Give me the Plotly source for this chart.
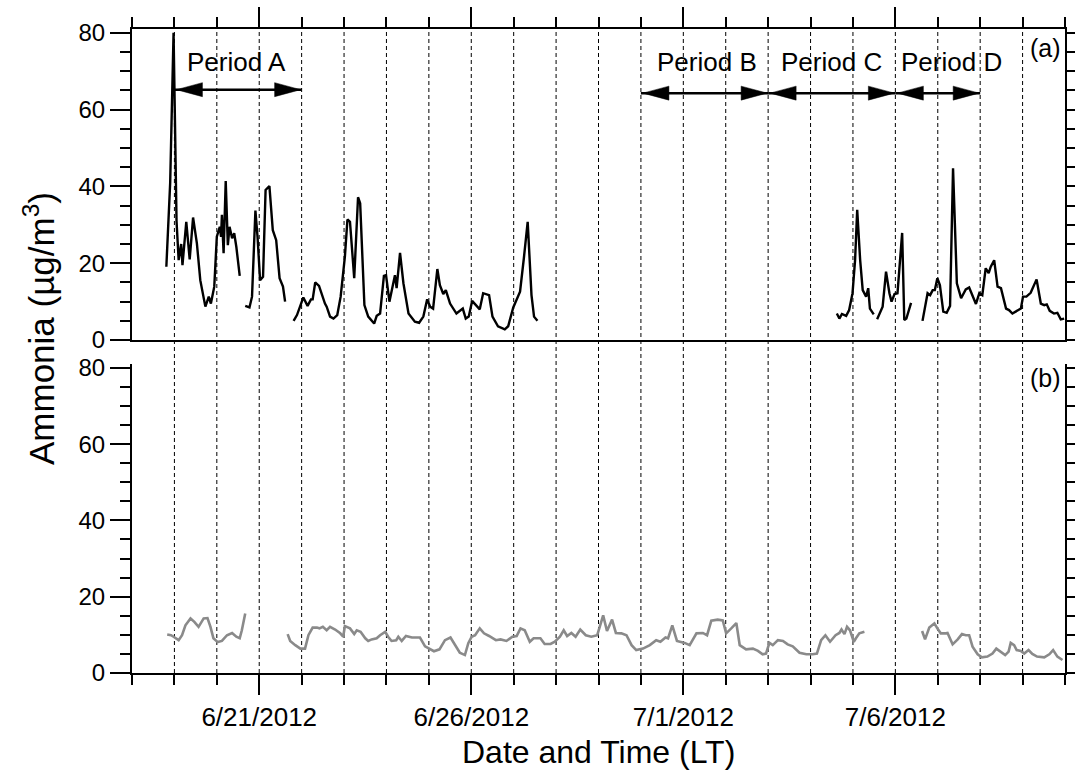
import pandas as pd
import plotly.graph_objects as go

BASE = pd.Timestamp("2012-06-18")

# ---- panel (a): ammonia (black), day offsets from 6/18/2012 00:00 ----
days_a = [0.81, 0.90, 0.98, 1.05, 1.10, 1.16, 1.19, 1.28, 1.36, 1.44, 1.53, 1.61, 1.73, 1.81, 1.86, 1.94,
          2.00, 2.07, 2.10, 2.12, 2.16, 2.21, 2.26, 2.30, 2.36, 2.41, 2.46, 2.54,
          2.60,
          2.67, 2.77, 2.83, 2.91, 2.96, 3.02, 3.09, 3.15, 3.24, 3.32, 3.40, 3.48, 3.56, 3.61,
          3.70,
          3.81, 3.89, 4.04, 4.14, 4.22, 4.26, 4.32, 4.41, 4.55, 4.59, 4.67, 4.75, 4.84, 4.92, 5.02, 5.08,
          5.14, 5.24, 5.33, 5.38, 5.48, 5.57, 5.71, 5.77, 5.85, 5.94, 5.99, 6.07, 6.20, 6.24, 6.32, 6.40,
          6.52, 6.67, 6.77, 6.87, 6.96, 7.03, 7.10, 7.20, 7.26, 7.34, 7.40, 7.50, 7.65, 7.80, 7.87, 7.94,
          8.02, 8.13, 8.20, 8.28, 8.42, 8.50, 8.63, 8.79, 8.87, 8.99, 9.15, 9.24, 9.33, 9.42, 9.48, 9.56,
          13.0,
          16.62, 16.68, 16.74, 16.84, 16.91, 16.99, 17.05, 17.10, 17.17, 17.23, 17.31, 17.36, 17.40, 17.49,
          17.53,
          17.57, 17.70, 17.78, 17.86, 17.91, 17.98, 18.05, 18.16, 18.21, 18.26, 18.37,
          18.50,
          18.64, 18.76, 18.82, 18.88, 18.93, 18.99, 19.05, 19.13, 19.21, 19.29, 19.36, 19.45, 19.55, 19.66,
          19.74, 19.90, 19.98, 20.05, 20.13, 20.20, 20.25, 20.33, 20.41, 20.49, 20.61, 20.68, 20.76, 20.84,
          20.96, 21.01, 21.09, 21.19, 21.33, 21.43, 21.51, 21.57, 21.64, 21.74, 21.82, 21.90, 21.98]
nh3_a = [19.1, 40.9, 80.0, 31.0, 20.8, 25.0, 19.5, 30.8, 21.0, 31.9, 25.2, 15.6, 8.7, 11.3, 9.5, 13.9,
         26.9, 29.5, 26.9, 32.6, 22.6, 41.4, 24.7, 29.5, 26.5, 27.8, 24.3, 16.7,
         None,
         8.9, 8.5, 11.3, 33.7, 26.9, 15.6, 16.5, 39.1, 40.1, 28.6, 26.0, 16.1, 13.9, 10.0,
         None,
         5.0, 6.5, 11.1, 8.9, 10.6, 10.6, 15.0, 14.1, 9.5, 8.7, 6.1, 5.6, 6.5, 11.3, 21.7, 31.4,
         30.8, 16.1, 37.2, 35.6, 9.1, 6.1, 4.3, 6.3, 6.9, 16.7, 16.9, 10.0, 16.9, 13.5, 22.7, 14.8,
         6.9, 4.8, 4.5, 6.1, 10.6, 8.7, 8.2, 18.5, 14.3, 12.0, 13.0, 9.5, 6.9, 8.2, 5.6, 6.1,
         10.2, 8.7, 8.0, 12.2, 11.7, 6.1, 3.6, 2.8, 3.6, 8.5, 12.6, 21.3, 30.8, 11.7, 6.1, 5.0,
         None,
         6.9, 5.6, 6.8, 6.3, 7.8, 12.2, 20.8, 33.9, 20.8, 13.0, 11.3, 13.5, 8.2, 6.7,
         None,
         5.4, 8.7, 17.8, 12.2, 10.0, 12.0, 12.2, 27.9, 5.2, 5.6, 9.7,
         None,
         5.0, 12.2, 11.7, 13.0, 13.0, 16.1, 14.3, 7.4, 7.1, 8.9, 44.7, 14.8, 10.9, 13.2,
         13.7, 9.4, 12.2, 11.7, 18.7, 17.4, 19.1, 20.8, 13.9, 13.5, 8.2, 7.8, 6.9, 7.4,
         8.2, 11.3, 11.3, 12.3, 15.8, 9.5, 9.1, 9.3, 7.6, 6.9, 7.1, 5.4, 5.6]

# ---- panel (b): ammonia (gray) ----
days_b = [0.83, 0.92, 0.98, 1.10, 1.18, 1.26, 1.38, 1.47, 1.57, 1.69, 1.78, 1.85, 1.92, 2.02, 2.12, 2.24,
          2.36, 2.46, 2.54, 2.59, 2.67,
          3.20,
          3.67, 3.73, 3.85, 3.97, 4.08, 4.16, 4.26, 4.36, 4.42, 4.50, 4.59, 4.67, 4.79, 4.91, 4.98, 5.02,
          5.14, 5.24, 5.30, 5.39, 5.50, 5.57, 5.65, 5.77, 5.85, 5.97, 6.04, 6.12, 6.23, 6.28, 6.36, 6.46,
          6.60, 6.79, 6.91, 7.01, 7.12, 7.25, 7.38, 7.51, 7.61, 7.73, 7.85, 7.93, 8.01, 8.09, 8.20, 8.30,
          8.42, 8.58, 8.69, 8.83, 8.97, 9.07, 9.16, 9.26, 9.38, 9.47, 9.63, 9.73, 9.87, 9.97, 10.09, 10.18,
          10.26, 10.36, 10.46, 10.57, 10.70, 10.83, 10.97, 11.11, 11.20, 11.32, 11.41, 11.54, 11.66, 11.78,
          11.89, 12.05, 12.21, 12.36, 12.46, 12.58, 12.64, 12.74, 12.85, 13.03, 13.15, 13.31, 13.46, 13.56,
          13.66, 13.81, 13.93, 14.01, 14.13, 14.25, 14.33, 14.48, 14.64, 14.76, 14.87, 14.95, 15.03, 15.11,
          15.23, 15.35, 15.46, 15.58, 15.74, 15.90, 16.05, 16.15, 16.25, 16.35, 16.46, 16.59, 16.68, 16.73,
          16.80, 16.86, 16.93, 17.02, 17.07, 17.15, 17.27,
          18.00,
          18.63, 18.70, 18.80, 18.92, 18.99, 19.07, 19.19, 19.23, 19.35, 19.47, 19.57, 19.66, 19.74, 19.82,
          19.94, 20.04, 20.17, 20.29, 20.38, 20.49, 20.59, 20.67, 20.72, 20.80, 20.86, 20.96, 21.04, 21.14,
          21.23, 21.34, 21.51, 21.63, 21.72, 21.82, 21.94]
nh3_b = [10.1, 9.9, 9.5, 8.6, 9.9, 12.5, 14.3, 13.4, 12.1, 14.3, 14.4, 12.1, 9.1, 8.1, 8.4, 9.9,
         10.5, 9.5, 9.1, 11.2, 15.6,
         None,
         10.2, 8.4, 7.3, 6.4, 6.4, 9.9, 11.9, 11.9, 11.7, 12.1, 11.2, 12.1, 11.4, 10.4, 9.5, 12.3,
         11.7, 10.2, 11.2, 10.8, 9.1, 8.4, 8.8, 9.1, 9.9, 10.8, 9.5, 8.4, 8.6, 9.5, 8.4, 9.7,
         9.3, 9.3, 7.0, 6.4, 5.7, 6.2, 8.6, 9.3, 7.3, 5.3, 4.7, 7.8, 9.5, 9.9, 11.7, 10.4,
         9.7, 8.6, 8.8, 8.4, 9.5, 9.7, 11.7, 11.2, 8.2, 9.1, 9.1, 7.6, 7.6, 8.2, 9.5, 11.2,
         9.7, 10.5, 9.5, 11.4, 9.9, 9.5, 9.9, 15.1, 11.0, 14.0, 10.5, 10.4, 9.9, 7.3,
         6.0, 6.4, 7.3, 8.6, 8.2, 9.3, 9.1, 12.5, 8.4, 7.9, 7.3, 10.4, 10.5, 9.9,
         13.7, 14.0, 13.8, 10.4, 11.7, 13.1, 7.3, 6.2, 6.4, 5.8, 4.9, 5.1, 7.9, 7.3,
         8.6, 8.4, 7.5, 7.0, 5.3, 4.9, 4.9, 5.1, 8.6, 9.9, 8.2, 9.9, 10.5, 11.4,
         10.2, 12.1, 11.2, 8.2, 9.1, 10.4, 10.8,
         None,
         11.0, 8.8, 11.9, 13.0, 11.7, 10.4, 10.4, 10.5, 7.5, 8.8, 10.2, 9.9, 9.9, 6.9,
         4.9, 4.1, 4.3, 5.1, 6.4, 5.6, 4.7, 5.6, 7.9, 7.3, 6.0, 5.8, 5.1, 6.0,
         5.0, 4.3, 4.1, 4.9, 6.0, 4.3, 3.4]

# ---- periods ----
period_names = ["Period A", "Period B", "Period C", "Period D"]
period_start = ["2012-06-19", "2012-06-30", "2012-07-03", "2012-07-06"]
period_end = ["2012-06-22", "2012-07-03", "2012-07-06", "2012-07-08"]

y_ticks = [0, 20, 40, 60, 80]

t_a = BASE + pd.to_timedelta(days_a, unit="D")
t_b = BASE + pd.to_timedelta(days_b, unit="D")

FONT = "Liberation Sans, Arial, sans-serif"
DAY_MS = 86400000
X_RANGE = ["2012-06-18", "2012-07-10"]
Y_RANGE = [0, 81]

fig = go.Figure()
fig.add_trace(go.Scatter(x=t_a, y=nh3_a, mode="lines", xaxis="x2", yaxis="y2",
                         line=dict(color="black", width=2.4), connectgaps=False,
                         showlegend=False, hoverinfo="skip"))
fig.add_trace(go.Scatter(x=t_b, y=nh3_b, mode="lines", xaxis="x", yaxis="y",
                         line=dict(color="#8a8a8a", width=2.6), connectgaps=False,
                         showlegend=False, hoverinfo="skip"))
# dummy traces so the right-hand tick axes are drawn
fig.add_trace(go.Scatter(x=[X_RANGE[0]], y=[None], xaxis="x", yaxis="y3", showlegend=False, hoverinfo="skip"))
fig.add_trace(go.Scatter(x=[X_RANGE[0]], y=[None], xaxis="x2", yaxis="y4", showlegend=False, hoverinfo="skip"))

minor_x = dict(dtick=DAY_MS, tick0="2012-06-18", ticks="outside", ticklen=10, tickwidth=2,
               tickcolor="black", showgrid=False)
common_x = dict(type="date", range=X_RANGE, showline=True, linewidth=2, linecolor="black",
                ticks="outside", ticklen=20, tickwidth=2, tickcolor="black",
                tick0="2012-06-21", dtick=5 * DAY_MS, showgrid=False, zeroline=False,
                automargin=False, minor=minor_x)
common_y = dict(range=Y_RANGE, showline=True, linewidth=2, linecolor="black",
                ticks="outside", ticklen=20, tickwidth=2, tickcolor="black",
                tickvals=y_ticks, showgrid=False, zeroline=False, automargin=False,
                tickfont=dict(family=FONT, size=24, color="black"),
                minor=dict(dtick=5, tick0=0, ticks="outside", ticklen=10, tickwidth=2,
                           tickcolor="black", showgrid=False))
right_y = dict(range=Y_RANGE, showline=True, linewidth=2, linecolor="black", side="right",
               ticks="outside", ticklen=10, tickwidth=2, tickcolor="black", dtick=5, tick0=0,
               showticklabels=False, showgrid=False, zeroline=False, automargin=False)

DOM_B = [0, 0.4798]
DOM_A = [0.517, 1]

fig.update_layout(
    width=1075, height=782,
    margin=dict(l=132, r=10, t=29, b=109, autoexpand=False),
    paper_bgcolor="white", plot_bgcolor="rgba(0,0,0,0)",
    font=dict(family=FONT, color="black"),
    xaxis=dict(**common_x, anchor="y", side="bottom", tickformat="%-m/%-d/%Y",
               tickfont=dict(family=FONT, size=26, color="black")),
    xaxis2=dict(**common_x, anchor="y2", side="top", mirror=True, showticklabels=False,
                matches="x"),
    yaxis=dict(**common_y, domain=DOM_B, anchor="x"),
    yaxis2=dict(**common_y, domain=DOM_A, anchor="x2"),
    yaxis3=dict(**right_y, overlaying="y", anchor="x"),
    yaxis4=dict(**right_y, overlaying="y2", anchor="x2"),
)

# dashed daily grid lines across both panels
shapes = []
for d in pd.date_range("2012-06-19", "2012-07-09", freq="D"):
    shapes.append(dict(type="line", xref="x", yref="paper", x0=d, x1=d, y0=0, y1=1,
                       line=dict(color="black", width=1, dash="4px,3px"), layer="below"))

# period arrows
arrow_y = [65.2, 64.3, 64.3, 64.3]
for s, e, ay in zip(period_start, period_end, arrow_y):
    shapes.append(dict(type="line", xref="x2", yref="y2", x0=s, x1=e, y0=ay, y1=ay,
                       line=dict(color="black", width=2.5)))
    shapes.append(dict(type="path", xref="x2", yref="y2", xsizemode="pixel", ysizemode="pixel",
                       xanchor=s, yanchor=ay, path="M2,0 L28,7 L28,-7 Z",
                       fillcolor="black", line=dict(color="black", width=0.5)))
    shapes.append(dict(type="path", xref="x2", yref="y2", xsizemode="pixel", ysizemode="pixel",
                       xanchor=e, yanchor=ay, path="M-1,0 L-27,7 L-27,-7 Z",
                       fillcolor="black", line=dict(color="black", width=0.5)))
fig.update_layout(shapes=shapes)

annotations = []
text_centers = [2.47, 13.55, 16.49, 19.32]
for name, c in zip(period_names, text_centers):
    annotations.append(dict(text=name, xref="x2", yref="y2", x=BASE + pd.Timedelta(days=c), y=72.4,
                            showarrow=False, xanchor="center", yanchor="middle",
                            font=dict(family=FONT, size=26, color="black")))
annotations.append(dict(text="(a)", xref="paper", yref="y2", x=1, y=76.0, xshift=-2,
                        showarrow=False, xanchor="right", yanchor="middle",
                        font=dict(family=FONT, size=25, color="black")))
annotations.append(dict(text="(b)", xref="paper", yref="y", x=1, y=77.3, xshift=-2,
                        showarrow=False, xanchor="right", yanchor="middle",
                        font=dict(family=FONT, size=25, color="black")))
annotations.append(dict(text="Ammonia (µg/m<sup>3</sup>)", xref="paper", yref="paper",
                        x=0, y=0.5, xshift=-93, yshift=22, textangle=-90, showarrow=False,
                        xanchor="center", yanchor="middle",
                        font=dict(family=FONT, size=35, color="black")))
annotations.append(dict(text="Date and Time (LT)", xref="paper", yref="paper",
                        x=0.5, y=0, yshift=-79, showarrow=False,
                        xanchor="center", yanchor="middle",
                        font=dict(family=FONT, size=32, color="black")))
fig.update_layout(annotations=annotations)

fig.write_html("out.html")
